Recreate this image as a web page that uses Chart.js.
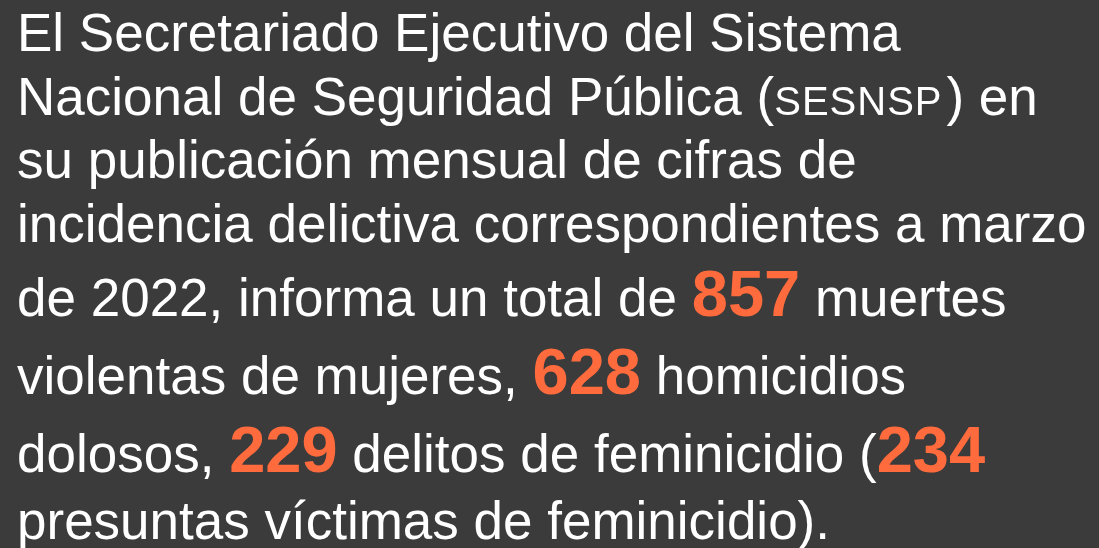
<!DOCTYPE html>
<html lang="es">
<head>
<meta charset="utf-8">
<script src="https://cdn.jsdelivr.net/npm/chart.js@4.4.1/dist/chart.umd.min.js"></script>
<style>
  html, body { margin: 0; padding: 0; }
  body { width: 1099px; height: 548px; overflow: hidden; position: relative; background: #3b3b3b; }
  #fondo { position: absolute; left: 0; top: 0; }
  #texto {
    position: absolute; left: 17px; top: 1px; width: 1090px;
    font-family: "Liberation Sans", Arial, sans-serif;
    font-size: 53px; line-height: 1.2; color: #ffffff; white-space: nowrap;
  }
  .cifra { color: #ff6b3d; font-weight: bold; font-size: 65px; }
  .sigla { font-size: 40px; letter-spacing: 1px; margin-right: 4px; }
</style>
</head>
<body>
<canvas id="fondo" width="1099" height="548"></canvas>
<div id="texto"></div>
<script>
// Cifras de la publicación (SESNSP, marzo 2022)
const categorias = ['Muertes violentas de mujeres', 'Homicidios dolosos', 'Delitos de feminicidio', 'Víctimas de feminicidio'];
const valores = [857, 628, 229, 234];

// Texto con las cifras resaltadas
function cifra(i) {
    return '<span class="cifra">' + valores[i] + '</span>';
}

const lineas = [
    'El Secretariado Ejecutivo del Sistema',
    'Nacional de Seguridad Pública (<span class="sigla">SESNSP</span>) en',
    'su publicación mensual de cifras de',
    'incidencia delictiva correspondientes a marzo',
    'de 2022, informa un total de ' + cifra(0) + ' muertes',
    'violentas de mujeres, ' + cifra(1) + ' homicidios',
    'dolosos, ' + cifra(2) + ' delitos de feminicidio (' + cifra(3),
    'presuntas víctimas de feminicidio).'
];
document.getElementById('texto').innerHTML = lineas.join('<br>');

// Fondo dibujado con Chart.js (sin ejes ni marcas visibles)
const fondoPlugin = {
    id: 'fondo',
    beforeDraw(chart) {
        const ctx = chart.ctx;
        ctx.save();
        ctx.fillStyle = '#3b3b3b';
        ctx.fillRect(0, 0, chart.width, chart.height);
        ctx.restore();
    }
};

new Chart(document.getElementById('fondo'), {
    type: 'bar',
    data: {
        labels: categorias,
        datasets: [{ label: 'Cifras', data: valores, hidden: true }]
    },
    options: {
        responsive: false,
        animation: false,
        scales: { x: { display: false }, y: { display: false } },
        plugins: { legend: { display: false }, tooltip: { enabled: false } }
    },
    plugins: [fondoPlugin]
});
</script>
</body>
</html>
